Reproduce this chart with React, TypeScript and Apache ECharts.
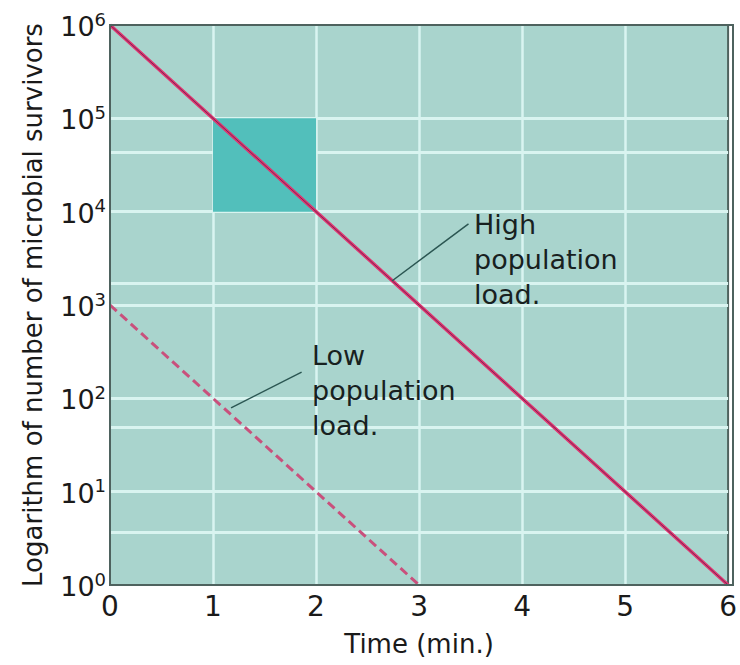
import React, { useEffect, useRef } from "react";
import * as echarts from "echarts";

const timeTicks = [0, 1, 2, 3, 4, 5, 6];
const highTimes = [0, 6];
const highValues = [1e6, 1];
const lowTimes = [0, 3];
const lowValues = [1e3, 1];
const extraGridValues = [43000, 1700, 49, 3.7];
const shadedBox = { x0: 1, x1: 2, y0: 1e5, y1: 1e4 };
const highLeader = [[2.74, 1820], [3.48, 7400]];
const lowLeader = [[1.175, 79], [1.86, 191]];
const highLabel = "High\npopulation\nload.";
const lowLabel = "Low\npopulation\nload.";

const FONT = '"DejaVu Sans", "Liberation Sans", Arial, sans-serif';
const G = { left: 110, top: 25, right: 7, bottom: 80 };
const W = 740;
const H = 665;

export default function App() {
  const ref = useRef<HTMLDivElement>(null);
  useEffect(() => {
    if (!ref.current) return;
    const chart = echarts.init(ref.current, undefined, { renderer: "svg" });
    const gridColor = "#d9f4f0";
    chart.setOption({
      animation: false,
      backgroundColor: "#ffffff",
      textStyle: { fontFamily: FONT },
      grid: {
        ...G,
        show: true,
        backgroundColor: "#a9d4cd",
        borderColor: "#4e625e",
        borderWidth: 2,
      },
      xAxis: {
        type: "value",
        min: timeTicks[0],
        max: timeTicks[timeTicks.length - 1],
        interval: 1,
        name: "Time (min.)",
        nameLocation: "middle",
        nameGap: 46,
        nameTextStyle: { fontSize: 26, color: "#1a1a1a", fontFamily: FONT },
        axisLine: { show: false },
        axisTick: { show: false },
        axisLabel: { fontSize: 28, color: "#1a1a1a", margin: 7, fontFamily: FONT },
        splitLine: {
          show: true,
          showMinLine: false,
          showMaxLine: false,
          lineStyle: { color: gridColor, width: 2.5 },
        },
      },
      yAxis: {
        type: "log",
        logBase: 10,
        min: 1,
        max: 1e6,
        name: "Logarithm of number of microbial survivors",
        nameLocation: "middle",
        nameGap: 64,
        nameTextStyle: { fontSize: 26, color: "#1a1a1a", fontFamily: FONT },
        axisLine: { show: false },
        axisTick: { show: false },
        axisLabel: {
          margin: 4,
          color: "#1a1a1a",
          formatter: (v: number) => `{b|10}{s|${Math.round(Math.log10(v))}}`,
          rich: {
            b: { fontSize: 27, color: "#1a1a1a", fontFamily: FONT, lineHeight: 30, verticalAlign: "bottom" },
            s: { fontSize: 18, color: "#1a1a1a", fontFamily: FONT, lineHeight: 30, verticalAlign: "top" },
          },
        },
        splitLine: {
          show: true,
          showMinLine: false,
          showMaxLine: false,
          lineStyle: { color: gridColor, width: 3 },
        },
      },
      graphic: [
        {
          type: "rect",
          z: 20,
          silent: true,
          shape: { x: G.left, y: G.top, width: W - G.left - G.right, height: H - G.top - G.bottom },
          style: { fill: "none", stroke: "#4e625e", lineWidth: 2 },
        },
        {
          type: "text",
          left: 474,
          top: 207,
          z: 10,
          style: { text: highLabel, font: `27px ${FONT}`, fill: "#18211f", lineHeight: 35 },
        },
        {
          type: "text",
          left: 312,
          top: 338,
          z: 10,
          style: { text: lowLabel, font: `27px ${FONT}`, fill: "#18211f", lineHeight: 35 },
        },
      ],
      series: [
        {
          type: "line",
          z: 1,
          data: [],
          silent: true,
          markLine: {
            z: 1,
            silent: true,
            symbol: "none",
            label: { show: false },
            lineStyle: { color: gridColor, width: 3, type: "solid" },
            data: extraGridValues.map((v) => ({ yAxis: v })),
          },
        },
        {
          type: "line",
          z: 2,
          data: [],
          silent: true,
          markArea: {
            z: 3,
            silent: true,
            itemStyle: { color: "#52bfbb" },
            data: [[{ coord: [shadedBox.x0, shadedBox.y0] }, { coord: [shadedBox.x1, shadedBox.y1] }]],
          },
        },
        {
          type: "line",
          z: 3,
          data: [],
          silent: true,
          markLine: {
            z: 6,
            silent: true,
            symbol: "none",
            label: { show: false },
            lineStyle: { color: "#2b5652", width: 1.5, type: "solid" },
            data: [
              [{ coord: highLeader[0] }, { coord: highLeader[1] }],
              [{ coord: lowLeader[0] }, { coord: lowLeader[1] }],
            ],
          },
        },
        {
          name: "High population load",
          type: "line",
          z: 4,
          symbol: "none",
          data: highTimes.map((t, i) => [t, highValues[i]]),
          lineStyle: { color: "#e0336f", width: 3.5 },
        },
        {
          name: "High population load core",
          type: "line",
          z: 5,
          symbol: "none",
          data: highTimes.map((t, i) => [t, highValues[i]]),
          lineStyle: { color: "#7a2a55", width: 1 },
        },
        {
          name: "Low population load",
          type: "line",
          z: 4,
          symbol: "none",
          data: lowTimes.map((t, i) => [t, lowValues[i]]),
          lineStyle: { color: "#c9507c", width: 3, type: [9, 5] },
        },
      ],
    });
    return () => chart.dispose();
  }, []);
  return (
    <div
      ref={ref}
      style={{ position: "absolute", left: 0, top: 0, width: W, height: H }}
    />
  );
}
